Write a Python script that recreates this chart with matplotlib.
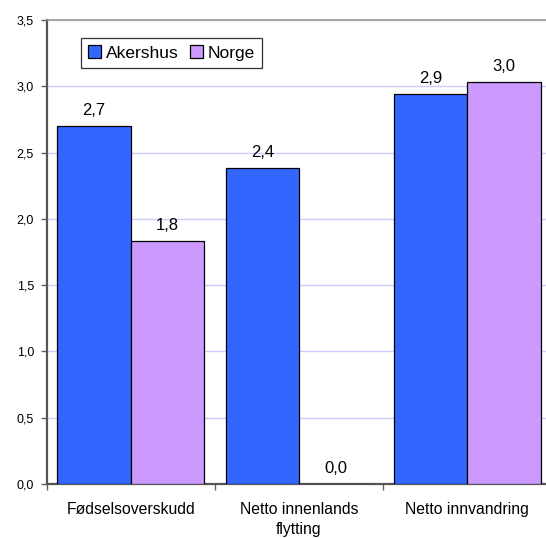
import matplotlib
matplotlib.use("Agg")
import matplotlib.pyplot as plt
import numpy as np

categories = ["Fødselsoverskudd", "Netto innenlands\nflytting", "Netto innvandring"]
series_names = ["Akershus", "Norge"]
akershus = [2.70, 2.38, 2.94]
norge = [1.83, 0.0, 3.03]
value_labels_akershus = ["2,7", "2,4", "2,9"]
value_labels_norge = ["1,8", "0,0", "3,0"]
yticks = [0.0, 0.5, 1.0, 1.5, 2.0, 2.5, 3.0, 3.5]

plt.rcParams['font.family'] = ['Liberation Sans', 'DejaVu Sans']

fig = plt.figure(figsize=(5.46, 5.38), dpi=100)
ax = fig.add_axes([46.5/546, 1 - 484/538, 505/546, 464/538])

x = np.arange(len(categories))
w = 0.435
colors = ["#3366FF", "#CC99FF"]
b1 = ax.bar(x - w/2, akershus, w, color=colors[0], edgecolor="black", linewidth=0.9, label=series_names[0], zorder=3)
b2 = ax.bar(x + w/2, norge, w, color=colors[1], edgecolor="black", linewidth=0.9, label=series_names[1], zorder=3)

def fmt(v):
    return f"{v:.1f}".replace(".", ",")

for bars, labels in ((b1, value_labels_akershus), (b2, value_labels_norge)):
    for rect, lab in zip(bars, labels):
        ax.annotate(lab,
                    (rect.get_x() + rect.get_width()/2, rect.get_height()),
                    xytext=(0, 6), textcoords="offset points",
                    ha="center", va="bottom", fontsize=12, zorder=4)

ax.set_xlim(-0.5, 2.5)
ax.set_ylim(0, 3.5)
ax.set_yticks(yticks)
ax.set_yticklabels([fmt(t) for t in yticks], fontsize=9)
ax.yaxis.grid(True, color="#CCCCFF", linewidth=1.0, zorder=0)
ax.set_axisbelow(True)

ax.set_xticks([-0.5, 0.5, 1.5, 2.5])
ax.set_xticklabels([])
ax.set_xticks(x, minor=True)
ax.set_xticklabels(categories, minor=True, fontsize=11.3, linespacing=1.45)
ax.tick_params(axis="x", which="major", length=4, color="#606060", width=1)
ax.tick_params(axis="x", which="minor", length=0, pad=13)
ax.tick_params(axis="y", length=4, color="#606060", width=1, pad=5)

for s in ("left", "bottom"):
    ax.spines[s].set_color("#555555")
    ax.spines[s].set_linewidth(1.6)
ax.spines["top"].set_color("#999999")
ax.spines["top"].set_linewidth(1.2)
ax.spines["right"].set_visible(False)

leg = ax.legend(loc="upper left", bbox_to_anchor=(0.068, 0.961), borderaxespad=0,
                ncol=2, fontsize=12.5, frameon=True, fancybox=False,
                handlelength=0.75, handleheight=0.75, handletextpad=0.3,
                columnspacing=0.6, borderpad=0.42)
leg.get_frame().set_edgecolor("black")
leg.get_frame().set_linewidth(0.9)

fig.savefig("out.png", dpi=100)
